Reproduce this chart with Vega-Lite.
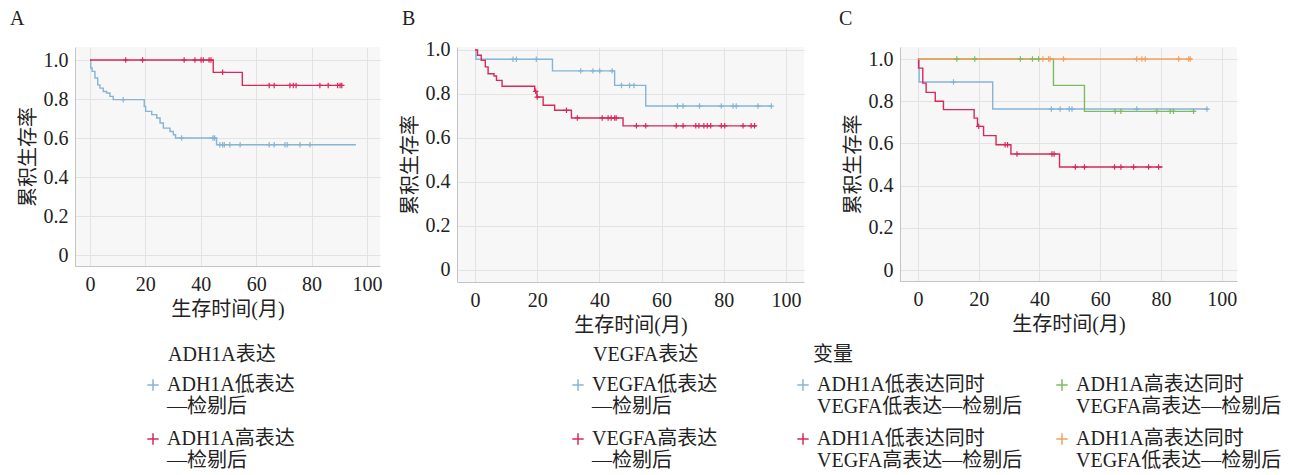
{
  "$schema": "https://vega.github.io/schema/vega-lite/v6.json",
  "padding": {"left": 10, "top": 8, "right": 2, "bottom": 2},
  "background": "white",
  "config": {
    "font": "Liberation Serif, Noto Sans CJK SC",
    "view": {"fill": "#f7f7f7", "stroke": null},
    "axis": {
      "grid": true, "gridColor": "#e3e3e3", "gridWidth": 1,
      "domain": true, "domainColor": "#c4c4c4",
      "ticks": false,
      "labelFont": "Liberation Serif, Noto Sans CJK SC", "labelFontSize": 20, "labelColor": "#222222",
      "titleFont": "Liberation Serif, Noto Sans CJK SC", "titleFontSize": 20, "titleFontWeight": "normal", "titleColor": "#222222"
    },
    "axisX": {"labelPadding": 8, "titlePadding": 5},
    "axisY": {"labelPadding": 7, "titlePadding": 5},
    "legend": {
      "orient": "none", "direction": "vertical",
      "labelFont": "Liberation Serif, Noto Sans CJK SC", "labelFontSize": 20, "labelColor": "#222222", "labelLimit": 400,
      "titleFont": "Liberation Serif, Noto Sans CJK SC", "titleFontSize": 20, "titleFontWeight": "normal", "titleColor": "#222222",
      "titlePadding": 10, "rowPadding": 12,
      "symbolType": "M-1,0H1M0,-1V1", "symbolSize": 130, "symbolStrokeWidth": 1.5, "symbolFillColor": "transparent"
    },
    "title": {"font": "Liberation Serif", "fontSize": 20, "fontWeight": "normal", "color": "#222222", "anchor": "start", "frame": "group"}
  },
  "data": {"values": [
    {"panel":"A","group":"ADH1A低表达|—检剔后","kind":"line","month":0,"survival":1.0},
    {"panel":"A","group":"ADH1A低表达|—检剔后","kind":"line","month":0.3,"survival":0.959},
    {"panel":"A","group":"ADH1A低表达|—检剔后","kind":"line","month":0.8,"survival":0.942},
    {"panel":"A","group":"ADH1A低表达|—检剔后","kind":"line","month":1.8,"survival":0.908},
    {"panel":"A","group":"ADH1A低表达|—检剔后","kind":"line","month":2.8,"survival":0.873},
    {"panel":"A","group":"ADH1A低表达|—检剔后","kind":"line","month":3.6,"survival":0.856},
    {"panel":"A","group":"ADH1A低表达|—检剔后","kind":"line","month":4.8,"survival":0.839},
    {"panel":"A","group":"ADH1A低表达|—检剔后","kind":"line","month":6.0,"survival":0.831},
    {"panel":"A","group":"ADH1A低表达|—检剔后","kind":"line","month":7.2,"survival":0.814},
    {"panel":"A","group":"ADH1A低表达|—检剔后","kind":"line","month":8.4,"survival":0.797},
    {"panel":"A","group":"ADH1A低表达|—检剔后","kind":"line","month":19.6,"survival":0.762},
    {"panel":"A","group":"ADH1A低表达|—检剔后","kind":"line","month":20.1,"survival":0.737},
    {"panel":"A","group":"ADH1A低表达|—检剔后","kind":"line","month":22.3,"survival":0.72},
    {"panel":"A","group":"ADH1A低表达|—检剔后","kind":"line","month":24.1,"survival":0.703},
    {"panel":"A","group":"ADH1A低表达|—检剔后","kind":"line","month":25.3,"survival":0.677},
    {"panel":"A","group":"ADH1A低表达|—检剔后","kind":"line","month":26.5,"survival":0.651},
    {"panel":"A","group":"ADH1A低表达|—检剔后","kind":"line","month":28.9,"survival":0.634},
    {"panel":"A","group":"ADH1A低表达|—检剔后","kind":"line","month":30.1,"survival":0.617},
    {"panel":"A","group":"ADH1A低表达|—检剔后","kind":"line","month":30.9,"survival":0.6},
    {"panel":"A","group":"ADH1A低表达|—检剔后","kind":"line","month":45.7,"survival":0.566},
    {"panel":"A","group":"ADH1A低表达|—检剔后","kind":"line","month":96,"survival":0.566},
    {"panel":"A","group":"ADH1A低表达|—检剔后","kind":"censor","month":12.0,"survival":0.797},
    {"panel":"A","group":"ADH1A低表达|—检剔后","kind":"censor","month":33.1,"survival":0.6},
    {"panel":"A","group":"ADH1A低表达|—检剔后","kind":"censor","month":44.4,"survival":0.6},
    {"panel":"A","group":"ADH1A低表达|—检剔后","kind":"censor","month":45.0,"survival":0.6},
    {"panel":"A","group":"ADH1A低表达|—检剔后","kind":"censor","month":46.9,"survival":0.566},
    {"panel":"A","group":"ADH1A低表达|—检剔后","kind":"censor","month":47.9,"survival":0.566},
    {"panel":"A","group":"ADH1A低表达|—检剔后","kind":"censor","month":48.5,"survival":0.566},
    {"panel":"A","group":"ADH1A低表达|—检剔后","kind":"censor","month":50.5,"survival":0.566},
    {"panel":"A","group":"ADH1A低表达|—检剔后","kind":"censor","month":54.2,"survival":0.566},
    {"panel":"A","group":"ADH1A低表达|—检剔后","kind":"censor","month":64.7,"survival":0.566},
    {"panel":"A","group":"ADH1A低表达|—检剔后","kind":"censor","month":66.5,"survival":0.566},
    {"panel":"A","group":"ADH1A低表达|—检剔后","kind":"censor","month":70.4,"survival":0.566},
    {"panel":"A","group":"ADH1A低表达|—检剔后","kind":"censor","month":71.2,"survival":0.566},
    {"panel":"A","group":"ADH1A低表达|—检剔后","kind":"censor","month":75.8,"survival":0.566},
    {"panel":"A","group":"ADH1A低表达|—检剔后","kind":"censor","month":79.4,"survival":0.566},
    {"panel":"A","group":"ADH1A高表达|—检剔后","kind":"line","month":0,"survival":1.0},
    {"panel":"A","group":"ADH1A高表达|—检剔后","kind":"line","month":44.5,"survival":0.937},
    {"panel":"A","group":"ADH1A高表达|—检剔后","kind":"line","month":55,"survival":0.87},
    {"panel":"A","group":"ADH1A高表达|—检剔后","kind":"line","month":91.2,"survival":0.87},
    {"panel":"A","group":"ADH1A高表达|—检剔后","kind":"censor","month":12.9,"survival":1.0},
    {"panel":"A","group":"ADH1A高表达|—检剔后","kind":"censor","month":19.0,"survival":1.0},
    {"panel":"A","group":"ADH1A高表达|—检剔后","kind":"censor","month":34.0,"survival":1.0},
    {"panel":"A","group":"ADH1A高表达|—检剔后","kind":"censor","month":37.9,"survival":1.0},
    {"panel":"A","group":"ADH1A高表达|—检剔后","kind":"censor","month":40.1,"survival":1.0},
    {"panel":"A","group":"ADH1A高表达|—检剔后","kind":"censor","month":40.9,"survival":1.0},
    {"panel":"A","group":"ADH1A高表达|—检剔后","kind":"censor","month":43.0,"survival":1.0},
    {"panel":"A","group":"ADH1A高表达|—检剔后","kind":"censor","month":43.7,"survival":1.0},
    {"panel":"A","group":"ADH1A高表达|—检剔后","kind":"censor","month":47.9,"survival":0.937},
    {"panel":"A","group":"ADH1A高表达|—检剔后","kind":"censor","month":64.7,"survival":0.87},
    {"panel":"A","group":"ADH1A高表达|—检剔后","kind":"censor","month":66.5,"survival":0.87},
    {"panel":"A","group":"ADH1A高表达|—检剔后","kind":"censor","month":72.2,"survival":0.87},
    {"panel":"A","group":"ADH1A高表达|—检剔后","kind":"censor","month":73.4,"survival":0.87},
    {"panel":"A","group":"ADH1A高表达|—检剔后","kind":"censor","month":74.4,"survival":0.87},
    {"panel":"A","group":"ADH1A高表达|—检剔后","kind":"censor","month":83.0,"survival":0.87},
    {"panel":"A","group":"ADH1A高表达|—检剔后","kind":"censor","month":86.0,"survival":0.87},
    {"panel":"A","group":"ADH1A高表达|—检剔后","kind":"censor","month":89.4,"survival":0.87},
    {"panel":"A","group":"ADH1A高表达|—检剔后","kind":"censor","month":90.3,"survival":0.87},
    {"panel":"A","group":"ADH1A高表达|—检剔后","kind":"censor","month":90.9,"survival":0.87},

    {"panel":"B","group":"VEGFA低表达|—检剔后","kind":"line","month":0,"survival":1.0},
    {"panel":"B","group":"VEGFA低表达|—检剔后","kind":"line","month":0.3,"survival":0.958},
    {"panel":"B","group":"VEGFA低表达|—检剔后","kind":"line","month":24.9,"survival":0.905},
    {"panel":"B","group":"VEGFA低表达|—检剔后","kind":"line","month":44.9,"survival":0.839},
    {"panel":"B","group":"VEGFA低表达|—检剔后","kind":"line","month":54.9,"survival":0.745},
    {"panel":"B","group":"VEGFA低表达|—检剔后","kind":"line","month":95.3,"survival":0.745},
    {"panel":"B","group":"VEGFA低表达|—检剔后","kind":"censor","month":12.2,"survival":0.958},
    {"panel":"B","group":"VEGFA低表达|—检剔后","kind":"censor","month":13.3,"survival":0.958},
    {"panel":"B","group":"VEGFA低表达|—检剔后","kind":"censor","month":19.7,"survival":0.958},
    {"panel":"B","group":"VEGFA低表达|—检剔后","kind":"censor","month":34.0,"survival":0.905},
    {"panel":"B","group":"VEGFA低表达|—检剔后","kind":"censor","month":37.9,"survival":0.905},
    {"panel":"B","group":"VEGFA低表达|—检剔后","kind":"censor","month":40.1,"survival":0.905},
    {"panel":"B","group":"VEGFA低表达|—检剔后","kind":"censor","month":44.1,"survival":0.905},
    {"panel":"B","group":"VEGFA低表达|—检剔后","kind":"censor","month":47.1,"survival":0.839},
    {"panel":"B","group":"VEGFA低表达|—检剔后","kind":"censor","month":49.7,"survival":0.839},
    {"panel":"B","group":"VEGFA低表达|—检剔后","kind":"censor","month":51.1,"survival":0.839},
    {"panel":"B","group":"VEGFA低表达|—检剔后","kind":"censor","month":65.1,"survival":0.745},
    {"panel":"B","group":"VEGFA低表达|—检剔后","kind":"censor","month":66.9,"survival":0.745},
    {"panel":"B","group":"VEGFA低表达|—检剔后","kind":"censor","month":72.2,"survival":0.745},
    {"panel":"B","group":"VEGFA低表达|—检剔后","kind":"censor","month":79.2,"survival":0.745},
    {"panel":"B","group":"VEGFA低表达|—检剔后","kind":"censor","month":83.0,"survival":0.745},
    {"panel":"B","group":"VEGFA低表达|—检剔后","kind":"censor","month":84.0,"survival":0.745},
    {"panel":"B","group":"VEGFA低表达|—检剔后","kind":"censor","month":91.0,"survival":0.745},
    {"panel":"B","group":"VEGFA低表达|—检剔后","kind":"censor","month":95.3,"survival":0.745},
    {"panel":"B","group":"VEGFA高表达|—检剔后","kind":"line","month":0,"survival":1.0},
    {"panel":"B","group":"VEGFA高表达|—检剔后","kind":"line","month":0.8,"survival":0.976},
    {"panel":"B","group":"VEGFA高表达|—检剔后","kind":"line","month":2.0,"survival":0.953},
    {"panel":"B","group":"VEGFA高表达|—检剔后","kind":"line","month":3.3,"survival":0.923},
    {"panel":"B","group":"VEGFA高表达|—检剔后","kind":"line","month":4.2,"survival":0.892},
    {"panel":"B","group":"VEGFA高表达|—检剔后","kind":"line","month":6.1,"survival":0.882},
    {"panel":"B","group":"VEGFA高表达|—检剔后","kind":"line","month":6.9,"survival":0.862},
    {"panel":"B","group":"VEGFA高表达|—检剔后","kind":"line","month":8.7,"survival":0.835},
    {"panel":"B","group":"VEGFA高表达|—检剔后","kind":"line","month":19.2,"survival":0.812},
    {"panel":"B","group":"VEGFA高表达|—检剔后","kind":"line","month":19.9,"survival":0.786},
    {"panel":"B","group":"VEGFA高表达|—检剔后","kind":"line","month":21.9,"survival":0.749},
    {"panel":"B","group":"VEGFA高表达|—检剔后","kind":"line","month":25.6,"survival":0.726},
    {"panel":"B","group":"VEGFA高表达|—检剔后","kind":"line","month":31.0,"survival":0.691},
    {"panel":"B","group":"VEGFA高表达|—检剔后","kind":"line","month":47.6,"survival":0.655},
    {"panel":"B","group":"VEGFA高表达|—检剔后","kind":"line","month":90.5,"survival":0.655},
    {"panel":"B","group":"VEGFA高表达|—检剔后","kind":"censor","month":19.5,"survival":0.812},
    {"panel":"B","group":"VEGFA高表达|—检剔后","kind":"censor","month":20.0,"survival":0.786},
    {"panel":"B","group":"VEGFA高表达|—检剔后","kind":"censor","month":29.4,"survival":0.726},
    {"panel":"B","group":"VEGFA高表达|—检剔后","kind":"censor","month":32.9,"survival":0.691},
    {"panel":"B","group":"VEGFA高表达|—检剔后","kind":"censor","month":40.9,"survival":0.691},
    {"panel":"B","group":"VEGFA高表达|—检剔后","kind":"censor","month":42.8,"survival":0.691},
    {"panel":"B","group":"VEGFA高表达|—检剔后","kind":"censor","month":43.8,"survival":0.691},
    {"panel":"B","group":"VEGFA高表达|—检剔后","kind":"censor","month":44.9,"survival":0.691},
    {"panel":"B","group":"VEGFA高表达|—检剔后","kind":"censor","month":45.4,"survival":0.691},
    {"panel":"B","group":"VEGFA高表达|—检剔后","kind":"censor","month":51.9,"survival":0.655},
    {"panel":"B","group":"VEGFA高表达|—检剔后","kind":"censor","month":54.9,"survival":0.655},
    {"panel":"B","group":"VEGFA高表达|—检剔后","kind":"censor","month":64.7,"survival":0.655},
    {"panel":"B","group":"VEGFA高表达|—检剔后","kind":"censor","month":66.9,"survival":0.655},
    {"panel":"B","group":"VEGFA高表达|—检剔后","kind":"censor","month":71.0,"survival":0.655},
    {"panel":"B","group":"VEGFA高表达|—检剔后","kind":"censor","month":72.0,"survival":0.655},
    {"panel":"B","group":"VEGFA高表达|—检剔后","kind":"censor","month":73.6,"survival":0.655},
    {"panel":"B","group":"VEGFA高表达|—检剔后","kind":"censor","month":74.7,"survival":0.655},
    {"panel":"B","group":"VEGFA高表达|—检剔后","kind":"censor","month":75.8,"survival":0.655},
    {"panel":"B","group":"VEGFA高表达|—检剔后","kind":"censor","month":79.2,"survival":0.655},
    {"panel":"B","group":"VEGFA高表达|—检剔后","kind":"censor","month":80.3,"survival":0.655},
    {"panel":"B","group":"VEGFA高表达|—检剔后","kind":"censor","month":86.2,"survival":0.655},
    {"panel":"B","group":"VEGFA高表达|—检剔后","kind":"censor","month":88.8,"survival":0.655},
    {"panel":"B","group":"VEGFA高表达|—检剔后","kind":"censor","month":89.9,"survival":0.655},

    {"panel":"C","group":"ADH1A低表达同时|VEGFA低表达—检剔后","kind":"line","month":0,"survival":1.0},
    {"panel":"C","group":"ADH1A低表达同时|VEGFA低表达—检剔后","kind":"line","month":0.4,"survival":0.891},
    {"panel":"C","group":"ADH1A低表达同时|VEGFA低表达—检剔后","kind":"line","month":24.6,"survival":0.763},
    {"panel":"C","group":"ADH1A低表达同时|VEGFA低表达—检剔后","kind":"line","month":95.6,"survival":0.763},
    {"panel":"C","group":"ADH1A低表达同时|VEGFA低表达—检剔后","kind":"censor","month":11.7,"survival":0.891},
    {"panel":"C","group":"ADH1A低表达同时|VEGFA低表达—检剔后","kind":"censor","month":43.9,"survival":0.763},
    {"panel":"C","group":"ADH1A低表达同时|VEGFA低表达—检剔后","kind":"censor","month":46.8,"survival":0.763},
    {"panel":"C","group":"ADH1A低表达同时|VEGFA低表达—检剔后","kind":"censor","month":49.8,"survival":0.763},
    {"panel":"C","group":"ADH1A低表达同时|VEGFA低表达—检剔后","kind":"censor","month":50.7,"survival":0.763},
    {"panel":"C","group":"ADH1A低表达同时|VEGFA低表达—检剔后","kind":"censor","month":72.0,"survival":0.763},
    {"panel":"C","group":"ADH1A低表达同时|VEGFA低表达—检剔后","kind":"censor","month":95.1,"survival":0.763},
    {"panel":"C","group":"ADH1A高表达同时|VEGFA高表达—检剔后","kind":"line","month":0,"survival":1.0},
    {"panel":"C","group":"ADH1A高表达同时|VEGFA高表达—检剔后","kind":"line","month":44.6,"survival":0.875},
    {"panel":"C","group":"ADH1A高表达同时|VEGFA高表达—检剔后","kind":"line","month":54.8,"survival":0.752},
    {"panel":"C","group":"ADH1A高表达同时|VEGFA高表达—检剔后","kind":"line","month":91.2,"survival":0.752},
    {"panel":"C","group":"ADH1A高表达同时|VEGFA高表达—检剔后","kind":"censor","month":12.8,"survival":1.0},
    {"panel":"C","group":"ADH1A高表达同时|VEGFA高表达—检剔后","kind":"censor","month":18.7,"survival":1.0},
    {"panel":"C","group":"ADH1A高表达同时|VEGFA高表达—检剔后","kind":"censor","month":33.7,"survival":1.0},
    {"panel":"C","group":"ADH1A高表达同时|VEGFA高表达—检剔后","kind":"censor","month":37.7,"survival":1.0},
    {"panel":"C","group":"ADH1A高表达同时|VEGFA高表达—检剔后","kind":"censor","month":39.7,"survival":1.0},
    {"panel":"C","group":"ADH1A高表达同时|VEGFA高表达—检剔后","kind":"censor","month":64.9,"survival":0.752},
    {"panel":"C","group":"ADH1A高表达同时|VEGFA高表达—检剔后","kind":"censor","month":66.8,"survival":0.752},
    {"panel":"C","group":"ADH1A高表达同时|VEGFA高表达—检剔后","kind":"censor","month":78.6,"survival":0.752},
    {"panel":"C","group":"ADH1A高表达同时|VEGFA高表达—检剔后","kind":"censor","month":83.0,"survival":0.752},
    {"panel":"C","group":"ADH1A高表达同时|VEGFA高表达—检剔后","kind":"censor","month":84.1,"survival":0.752},
    {"panel":"C","group":"ADH1A高表达同时|VEGFA高表达—检剔后","kind":"censor","month":90.7,"survival":0.752},
    {"panel":"C","group":"ADH1A低表达同时|VEGFA高表达—检剔后","kind":"line","month":0,"survival":1.0},
    {"panel":"C","group":"ADH1A低表达同时|VEGFA高表达—检剔后","kind":"line","month":0.2,"survival":0.957},
    {"panel":"C","group":"ADH1A低表达同时|VEGFA高表达—检剔后","kind":"line","month":1.6,"survival":0.886},
    {"panel":"C","group":"ADH1A低表达同时|VEGFA高表达—检剔后","kind":"line","month":2.7,"survival":0.842},
    {"panel":"C","group":"ADH1A低表达同时|VEGFA高表达—检剔后","kind":"line","month":5.7,"survival":0.8},
    {"panel":"C","group":"ADH1A低表达同时|VEGFA高表达—检剔后","kind":"line","month":8.4,"survival":0.76},
    {"panel":"C","group":"ADH1A低表达同时|VEGFA高表达—检剔后","kind":"line","month":18.5,"survival":0.72},
    {"panel":"C","group":"ADH1A低表达同时|VEGFA高表达—检剔后","kind":"line","month":19.6,"survival":0.681},
    {"panel":"C","group":"ADH1A低表达同时|VEGFA高表达—检剔后","kind":"line","month":21.6,"survival":0.637},
    {"panel":"C","group":"ADH1A低表达同时|VEGFA高表达—检剔后","kind":"line","month":25.7,"survival":0.594},
    {"panel":"C","group":"ADH1A低表达同时|VEGFA高表达—检剔后","kind":"line","month":30.6,"survival":0.55},
    {"panel":"C","group":"ADH1A低表达同时|VEGFA高表达—检剔后","kind":"line","month":46.6,"survival":0.488},
    {"panel":"C","group":"ADH1A低表达同时|VEGFA高表达—检剔后","kind":"line","month":80.5,"survival":0.488},
    {"panel":"C","group":"ADH1A低表达同时|VEGFA高表达—检剔后","kind":"censor","month":20.0,"survival":0.681},
    {"panel":"C","group":"ADH1A低表达同时|VEGFA高表达—检剔后","kind":"censor","month":28.7,"survival":0.594},
    {"panel":"C","group":"ADH1A低表达同时|VEGFA高表达—检剔后","kind":"censor","month":29.5,"survival":0.594},
    {"panel":"C","group":"ADH1A低表达同时|VEGFA高表达—检剔后","kind":"censor","month":32.6,"survival":0.55},
    {"panel":"C","group":"ADH1A低表达同时|VEGFA高表达—检剔后","kind":"censor","month":44.1,"survival":0.55},
    {"panel":"C","group":"ADH1A低表达同时|VEGFA高表达—检剔后","kind":"censor","month":44.8,"survival":0.55},
    {"panel":"C","group":"ADH1A低表达同时|VEGFA高表达—检剔后","kind":"censor","month":51.8,"survival":0.488},
    {"panel":"C","group":"ADH1A低表达同时|VEGFA高表达—检剔后","kind":"censor","month":54.8,"survival":0.488},
    {"panel":"C","group":"ADH1A低表达同时|VEGFA高表达—检剔后","kind":"censor","month":64.7,"survival":0.488},
    {"panel":"C","group":"ADH1A低表达同时|VEGFA高表达—检剔后","kind":"censor","month":66.8,"survival":0.488},
    {"panel":"C","group":"ADH1A低表达同时|VEGFA高表达—检剔后","kind":"censor","month":71.0,"survival":0.488},
    {"panel":"C","group":"ADH1A低表达同时|VEGFA高表达—检剔后","kind":"censor","month":75.9,"survival":0.488},
    {"panel":"C","group":"ADH1A低表达同时|VEGFA高表达—检剔后","kind":"censor","month":79.2,"survival":0.488},
    {"panel":"C","group":"ADH1A高表达同时|VEGFA低表达—检剔后","kind":"line","month":0,"survival":1.0},
    {"panel":"C","group":"ADH1A高表达同时|VEGFA低表达—检剔后","kind":"line","month":90.1,"survival":1.0},
    {"panel":"C","group":"ADH1A高表达同时|VEGFA低表达—检剔后","kind":"censor","month":41.1,"survival":1.0},
    {"panel":"C","group":"ADH1A高表达同时|VEGFA低表达—检剔后","kind":"censor","month":43.0,"survival":1.0},
    {"panel":"C","group":"ADH1A高表达同时|VEGFA低表达—检剔后","kind":"censor","month":43.5,"survival":1.0},
    {"panel":"C","group":"ADH1A高表达同时|VEGFA低表达—检剔后","kind":"censor","month":47.9,"survival":1.0},
    {"panel":"C","group":"ADH1A高表达同时|VEGFA低表达—检剔后","kind":"censor","month":72.0,"survival":1.0},
    {"panel":"C","group":"ADH1A高表达同时|VEGFA低表达—检剔后","kind":"censor","month":73.7,"survival":1.0},
    {"panel":"C","group":"ADH1A高表达同时|VEGFA低表达—检剔后","kind":"censor","month":74.8,"survival":1.0},
    {"panel":"C","group":"ADH1A高表达同时|VEGFA低表达—检剔后","kind":"censor","month":85.8,"survival":1.0},
    {"panel":"C","group":"ADH1A高表达同时|VEGFA低表达—检剔后","kind":"censor","month":89.1,"survival":1.0},
    {"panel":"C","group":"ADH1A高表达同时|VEGFA低表达—检剔后","kind":"censor","month":89.6,"survival":1.0}
  ]},
  "hconcat": [
    {
      "title": {"text": "A", "dx": -65, "offset": 18},
      "width": 305, "height": 219,
      "transform": [{"filter": "datum.panel === 'A'"}],
      "encoding": {
        "x": {"field": "month", "type": "quantitative", "scale": {"domain": [-5.4, 104.7], "nice": false, "zero": false}, "axis": {"values": [0, 20, 40, 60, 80, 100], "title": "生存时间(月)"}},
        "y": {"field": "survival", "type": "quantitative", "scale": {"domain": [-0.056, 1.067], "nice": false, "zero": false}, "axis": {"values": [0, 0.2, 0.4, 0.6, 0.8, 1], "labelExpr": "datum.value === 0 ? '0' : format(datum.value, '.1f')", "title": "累积生存率"}},
        "color": {"field": "group", "type": "nominal", "scale": {"domain": ["ADH1A低表达|—检剔后", "ADH1A高表达|—检剔后"], "range": ["#86b4d4", "#d8285c"]},
          "legend": {"title": "\u200b\u00a0\u00a0\u00a0\u00a0\u00a0ADH1A表达", "legendX": 68, "legendY": 298, "labelExpr": "split(datum.label, '|')"}}
      },
      "layer": [
        {"transform": [{"filter": "datum.kind === 'line'"}], "mark": {"type": "line", "interpolate": "step-after", "strokeWidth": 1.4}},
        {"transform": [{"filter": "datum.kind === 'censor'"}], "mark": {"type": "point", "shape": "M-1,0H1M0,-1V1", "size": 30, "strokeWidth": 1.2, "filled": false, "opacity": 1}}
      ]
    },
    {
      "hconcat": [
        {
          "title": {"text": "B", "dx": -55, "offset": 11},
          "width": 347, "height": 235,
          "transform": [{"filter": "datum.panel === 'B'"}],
          "encoding": {
            "x": {"field": "month", "type": "quantitative", "scale": {"domain": [-5.8, 105.8], "nice": false, "zero": false}, "axis": {"values": [0, 20, 40, 60, 80, 100], "title": "生存时间(月)"}},
            "y": {"field": "survival", "type": "quantitative", "scale": {"domain": [-0.055, 1.0136], "nice": false, "zero": false}, "axis": {"values": [0, 0.2, 0.4, 0.6, 0.8, 1], "labelExpr": "datum.value === 0 ? '0' : format(datum.value, '.1f')", "title": "累积生存率"}},
            "color": {"field": "group", "type": "nominal", "scale": {"domain": ["VEGFA低表达|—检剔后", "VEGFA高表达|—检剔后"], "range": ["#86b4d4", "#d8285c"]},
              "legend": {"title": "\u200b\u00a0\u00a0\u00a0\u00a0\u00a0VEGFA表达", "legendX": 111, "legendY": 298, "labelExpr": "split(datum.label, '|')"}}
          },
          "layer": [
            {"transform": [{"filter": "datum.kind === 'line'"}], "mark": {"type": "line", "interpolate": "step-after", "strokeWidth": 1.4}},
            {"transform": [{"filter": "datum.kind === 'censor'"}], "mark": {"type": "point", "shape": "M-1,0H1M0,-1V1", "size": 30, "strokeWidth": 1.2, "filled": false, "opacity": 1}}
          ]
        },
        {
          "title": {"text": "C", "dx": -61, "offset": 18},
          "width": 337, "height": 234,
          "transform": [{"filter": "datum.panel === 'C'"}],
          "encoding": {
            "x": {"field": "month", "type": "quantitative", "scale": {"domain": [-5.9, 105], "nice": false, "zero": false}, "axis": {"values": [0, 20, 40, 60, 80, 100], "title": "生存时间(月)"}},
            "y": {"field": "survival", "type": "quantitative", "scale": {"domain": [-0.052, 1.057], "nice": false, "zero": false}, "axis": {"values": [0, 0.2, 0.4, 0.6, 0.8, 1], "labelExpr": "datum.value === 0 ? '0' : format(datum.value, '.1f')", "title": "累积生存率"}},
            "color": {"field": "group", "type": "nominal", "scale": {"domain": ["ADH1A低表达同时|VEGFA低表达—检剔后", "ADH1A低表达同时|VEGFA高表达—检剔后", "ADH1A高表达同时|VEGFA高表达—检剔后", "ADH1A高表达同时|VEGFA低表达—检剔后"], "range": ["#86b4d4", "#d8285c", "#7dba61", "#f5a05c"]},
              "legend": {"title": "\u200b\u00a0\u00a0\u00a0\u00a0变量", "legendX": -107, "legendY": 298, "columns": 2, "columnPadding": 29, "labelExpr": "split(datum.label, '|')"}}
          },
          "layer": [
            {"transform": [{"filter": "datum.kind === 'line'"}], "mark": {"type": "line", "interpolate": "step-after", "strokeWidth": 1.4}},
            {"transform": [{"filter": "datum.kind === 'censor'"}], "mark": {"type": "point", "shape": "M-1,0H1M0,-1V1", "size": 30, "strokeWidth": 1.2, "filled": false, "opacity": 1}}
          ]
        }
      ],
      "spacing": -11, "align": "none", "bounds": "full",
      "resolve": {"scale": {"color": "independent", "x": "independent", "y": "independent"}, "legend": {"color": "independent"}}
    }
  ],
  "spacing": 18, "align": "none", "bounds": "full",
  "resolve": {"scale": {"color": "independent", "x": "independent", "y": "independent"}, "legend": {"color": "independent"}}
}
